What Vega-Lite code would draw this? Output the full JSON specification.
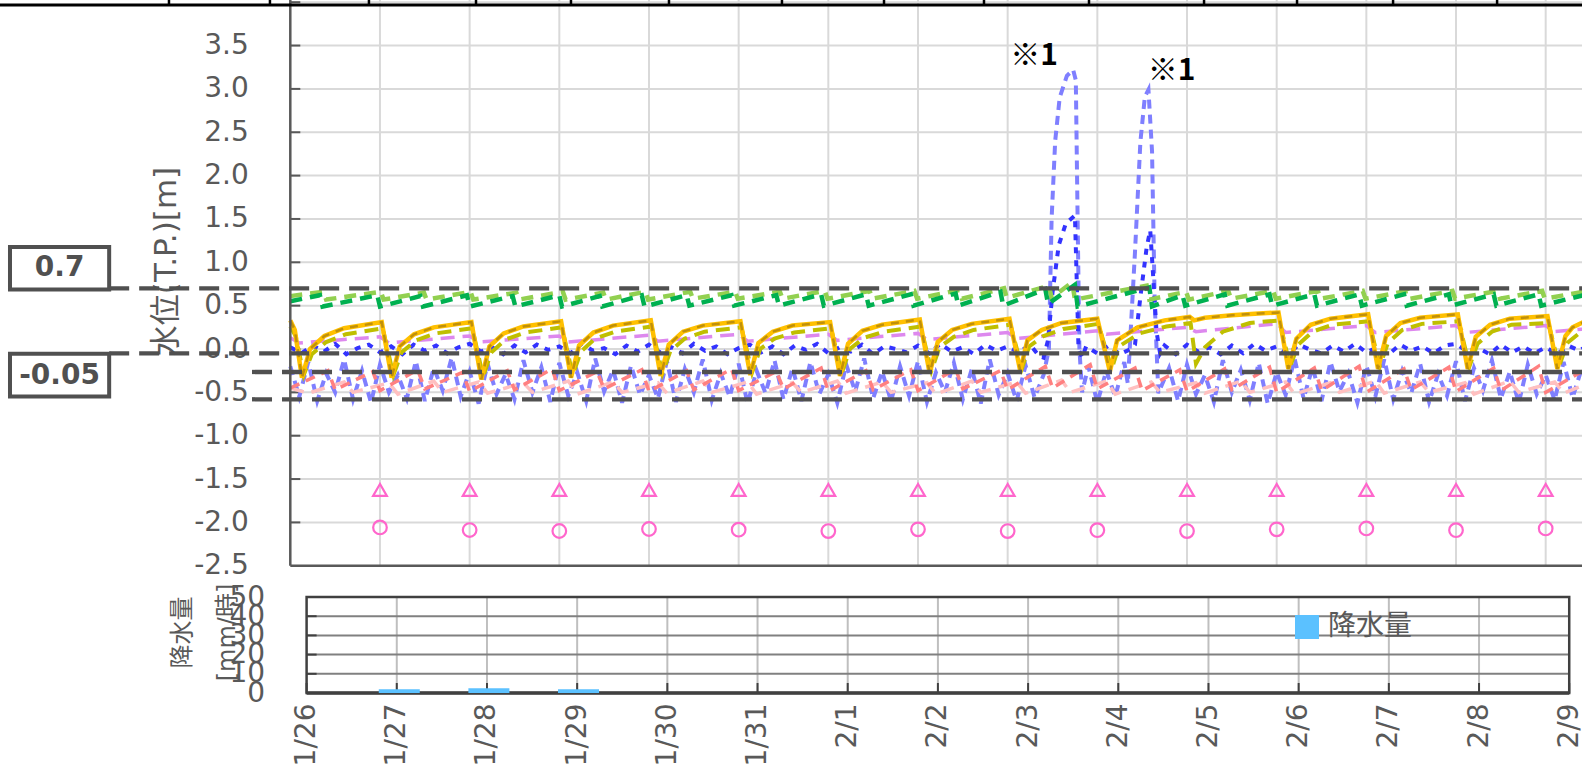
{
"$schema":"https://vega.github.io/schema/vega-lite/v6.json",
"width":1582,"height":767,"padding":0,"autosize":{"type":"none"},
"background":"#ffffff",
"config":{"view":{"stroke":null},"font":"DejaVu Sans, Noto Sans CJK JP",
 "axis":{"labelColor":"#595959","titleColor":"#595959","labelFontSize":28,"labelFont":"DejaVu Sans, Noto Sans CJK JP","titleFont":"DejaVu Sans, Noto Sans CJK JP","titleFontWeight":"normal","ticks":false,"labelFlush":false,"labelOverlap":false,"labelBound":false,"grid":false,"domain":false}},
"datasets":{
 "hgT":[{"v":-2},{"v":-1.5},{"v":-1},{"v":-0.5},{"v":0},{"v":0.5},{"v":1},{"v":1.5},{"v":2},{"v":2.5},{"v":3},{"v":3.5},{"v":4}],
 "vgT":[{"d":1},{"d":2},{"d":3},{"d":4},{"d":5},{"d":6},{"d":7},{"d":8},{"d":9},{"d":10},{"d":11},{"d":12},{"d":13},{"d":14}],
 "strip":[{"d":-1.353},{"d":-0.227},{"d":0.877},{"d":2.071},{"d":3.13},{"d":4.223},{"d":5.483},{"d":6.621},{"d":7.736},{"d":8.907},{"d":10.19},{"d":11.227},{"d":12.298},{"d":13.458}],
 "dg":[{"d":0,"v":0.55},{"d":0.33,"v":0.62},{"d":0.36,"v":0.49},{"d":0.97,"v":0.62},{"d":1.0,"v":0.49},{"d":1.45,"v":0.61},{"d":1.48,"v":0.49},{"d":1.97,"v":0.62},{"d":2.0,"v":0.49},{"d":2.48,"v":0.61},{"d":2.51,"v":0.49},{"d":3.0,"v":0.62},{"d":3.03,"v":0.49},{"d":3.45,"v":0.61},{"d":3.48,"v":0.49},{"d":3.92,"v":0.62},{"d":3.95,"v":0.49},{"d":4.42,"v":0.62},{"d":4.45,"v":0.5},{"d":4.92,"v":0.62},{"d":4.95,"v":0.5},{"d":5.42,"v":0.62},{"d":5.45,"v":0.5},{"d":5.92,"v":0.63},{"d":5.95,"v":0.5},{"d":6.42,"v":0.63},{"d":6.45,"v":0.5},{"d":6.92,"v":0.63},{"d":6.95,"v":0.5},{"d":7.42,"v":0.64},{"d":7.45,"v":0.5},{"d":7.92,"v":0.66},{"d":7.95,"v":0.5},{"d":8.42,"v":0.69},{"d":8.45,"v":0.52},{"d":8.75,"v":0.74},{"d":8.78,"v":0.49},{"d":9.58,"v":0.71},{"d":9.61,"v":0.49},{"d":9.95,"v":0.62},{"d":9.98,"v":0.5},{"d":10.42,"v":0.63},{"d":10.45,"v":0.5},{"d":10.92,"v":0.63},{"d":10.95,"v":0.5},{"d":11.42,"v":0.63},{"d":11.45,"v":0.5},{"d":11.92,"v":0.63},{"d":11.95,"v":0.5},{"d":12.42,"v":0.63},{"d":12.45,"v":0.5},{"d":12.92,"v":0.63},{"d":12.95,"v":0.5},{"d":13.42,"v":0.63},{"d":13.45,"v":0.5},{"d":13.92,"v":0.63},{"d":13.95,"v":0.5},{"d":14.42,"v":0.62}],
 "lg":[{"d":0,"v":0.61},{"d":0.37,"v":0.66},{"d":0.4,"v":0.57},{"d":1.01,"v":0.66},{"d":1.04,"v":0.57},{"d":1.49,"v":0.65},{"d":1.52,"v":0.57},{"d":2.01,"v":0.66},{"d":2.04,"v":0.57},{"d":2.52,"v":0.65},{"d":2.55,"v":0.57},{"d":3.04,"v":0.66},{"d":3.07,"v":0.57},{"d":3.49,"v":0.65},{"d":3.52,"v":0.57},{"d":3.96,"v":0.66},{"d":3.99,"v":0.57},{"d":4.46,"v":0.66},{"d":4.49,"v":0.58},{"d":4.96,"v":0.66},{"d":4.99,"v":0.58},{"d":5.46,"v":0.66},{"d":5.49,"v":0.58},{"d":5.96,"v":0.67},{"d":5.99,"v":0.58},{"d":6.46,"v":0.67},{"d":6.49,"v":0.58},{"d":6.96,"v":0.67},{"d":6.99,"v":0.58},{"d":7.46,"v":0.68},{"d":7.49,"v":0.58},{"d":7.96,"v":0.7},{"d":7.99,"v":0.59},{"d":8.46,"v":0.73},{"d":8.49,"v":0.59},{"d":8.72,"v":0.77},{"d":8.75,"v":0.57},{"d":9.55,"v":0.73},{"d":9.58,"v":0.57},{"d":9.99,"v":0.66},{"d":10.02,"v":0.57},{"d":10.46,"v":0.67},{"d":10.49,"v":0.58},{"d":10.96,"v":0.67},{"d":10.99,"v":0.58},{"d":11.46,"v":0.67},{"d":11.49,"v":0.58},{"d":11.96,"v":0.67},{"d":11.99,"v":0.58},{"d":12.46,"v":0.67},{"d":12.49,"v":0.58},{"d":12.96,"v":0.67},{"d":12.99,"v":0.58},{"d":13.46,"v":0.67},{"d":13.49,"v":0.58},{"d":13.96,"v":0.67},{"d":13.99,"v":0.58},{"d":14.42,"v":0.66}],
 "or":[{"d":0,"v":0.33},{"d":0.05,"v":0.22},{"d":0.13,"v":-0.33},{"d":0.22,"v":0.0},{"d":0.38,"v":0.15},{"d":0.6,"v":0.24},
 {"d":1.02,"v":0.31},{"d":1.13,"v":-0.33},{"d":1.22,"v":0.03},{"d":1.38,"v":0.17},{"d":1.6,"v":0.25},
 {"d":2.02,"v":0.31},{"d":2.13,"v":-0.35},{"d":2.22,"v":0.03},{"d":2.38,"v":0.18},{"d":2.6,"v":0.26},
 {"d":3.02,"v":0.32},{"d":3.13,"v":-0.33},{"d":3.22,"v":0.04},{"d":3.38,"v":0.19},{"d":3.6,"v":0.27},
 {"d":4.02,"v":0.33},{"d":4.13,"v":-0.31},{"d":4.22,"v":0.05},{"d":4.38,"v":0.2},{"d":4.6,"v":0.27},
 {"d":5.02,"v":0.32},{"d":5.13,"v":-0.3},{"d":5.22,"v":0.07},{"d":5.38,"v":0.2},{"d":5.6,"v":0.27},
 {"d":6.02,"v":0.31},{"d":6.13,"v":-0.31},{"d":6.22,"v":0.06},{"d":6.38,"v":0.21},{"d":6.6,"v":0.28},
 {"d":7.02,"v":0.34},{"d":7.13,"v":-0.28},{"d":7.22,"v":0.08},{"d":7.38,"v":0.22},{"d":7.6,"v":0.29},
 {"d":8.02,"v":0.35},{"d":8.14,"v":-0.25},{"d":8.22,"v":0.1},{"d":8.38,"v":0.22},{"d":8.6,"v":0.3},
 {"d":9.0,"v":0.35},{"d":9.14,"v":-0.26},{"d":9.22,"v":0.1},{"d":9.45,"v":0.25},{"d":9.75,"v":0.33},
 {"d":10.03,"v":0.37},{"d":10.08,"v":0.33},{"d":10.2,"v":0.36},{"d":10.5,"v":0.39},{"d":10.8,"v":0.41},
 {"d":11.02,"v":0.42},{"d":11.13,"v":-0.23},{"d":11.22,"v":0.12},{"d":11.38,"v":0.28},{"d":11.6,"v":0.35},
 {"d":12.02,"v":0.4},{"d":12.13,"v":-0.23},{"d":12.22,"v":0.15},{"d":12.38,"v":0.3},{"d":12.6,"v":0.36},
 {"d":13.02,"v":0.4},{"d":13.13,"v":-0.23},{"d":13.22,"v":0.14},{"d":13.38,"v":0.28},{"d":13.6,"v":0.35},
 {"d":14.02,"v":0.38},{"d":14.13,"v":-0.23},{"d":14.22,"v":0.15},{"d":14.3,"v":0.25},{"d":14.42,"v":0.31}],
 "ol":[{"d":0,"v":0.26},{"d":0.06,"v":0.15},{"d":0.15,"v":-0.3},{"d":0.24,"v":-0.06},{"d":0.4,"v":0.08},{"d":0.62,"v":0.17},
 {"d":1.03,"v":0.24},{"d":1.15,"v":-0.3},{"d":1.24,"v":-0.04},{"d":1.4,"v":0.1},{"d":1.62,"v":0.18},
 {"d":2.03,"v":0.24},{"d":2.15,"v":-0.32},{"d":2.24,"v":-0.04},{"d":2.4,"v":0.11},{"d":2.62,"v":0.19},
 {"d":3.03,"v":0.25},{"d":3.15,"v":-0.3},{"d":3.24,"v":-0.03},{"d":3.4,"v":0.12},{"d":3.62,"v":0.2},
 {"d":4.03,"v":0.26},{"d":4.15,"v":-0.28},{"d":4.24,"v":-0.02},{"d":4.4,"v":0.12},{"d":4.62,"v":0.2},
 {"d":5.03,"v":0.25},{"d":5.15,"v":-0.27},{"d":5.24,"v":0.0},{"d":5.4,"v":0.12},{"d":5.62,"v":0.19},
 {"d":6.03,"v":0.24},{"d":6.15,"v":-0.28},{"d":6.24,"v":0.0},{"d":6.4,"v":0.13},{"d":6.62,"v":0.2},
 {"d":7.03,"v":0.26},{"d":7.15,"v":-0.25},{"d":7.24,"v":0.02},{"d":7.4,"v":0.14},{"d":7.62,"v":0.22},
 {"d":8.03,"v":0.28},{"d":8.16,"v":-0.22},{"d":8.24,"v":0.03},{"d":8.4,"v":0.15},{"d":8.62,"v":0.23},
 {"d":9.01,"v":0.29},{"d":9.16,"v":-0.23},{"d":9.24,"v":0.03},{"d":9.47,"v":0.18},{"d":9.77,"v":0.26},
 {"d":10.04,"v":0.3},{"d":10.1,"v":-0.17},{"d":10.2,"v":0.02},{"d":10.4,"v":0.2},{"d":10.7,"v":0.3},
 {"d":11.03,"v":0.33},{"d":11.15,"v":-0.2},{"d":11.24,"v":0.05},{"d":11.4,"v":0.2},{"d":11.62,"v":0.28},
 {"d":12.03,"v":0.32},{"d":12.15,"v":-0.2},{"d":12.24,"v":0.07},{"d":12.4,"v":0.22},{"d":12.62,"v":0.29},
 {"d":13.03,"v":0.32},{"d":13.15,"v":-0.2},{"d":13.24,"v":0.06},{"d":13.4,"v":0.2},{"d":13.62,"v":0.28},
 {"d":14.03,"v":0.3},{"d":14.15,"v":-0.2},{"d":14.24,"v":0.07},{"d":14.42,"v":0.22}],
 "pk":[{"d":0,"v":0.13},{"d":0.1,"v":0.07},{"d":1.0,"v":0.14},{"d":1.1,"v":0.07},{"d":2.0,"v":0.15},{"d":2.1,"v":0.08},{"d":3.0,"v":0.15},{"d":3.1,"v":0.08},{"d":4.0,"v":0.16},{"d":4.1,"v":0.09},{"d":5.0,"v":0.17},{"d":5.1,"v":0.09},{"d":6.0,"v":0.17},{"d":6.1,"v":0.1},{"d":7.0,"v":0.18},{"d":7.1,"v":0.11},{"d":8.0,"v":0.19},{"d":8.1,"v":0.12},{"d":9.0,"v":0.21},{"d":9.1,"v":0.17},{"d":10.0,"v":0.25},{"d":10.1,"v":0.2},{"d":11.0,"v":0.29},{"d":11.1,"v":0.19},{"d":12.0,"v":0.27},{"d":12.1,"v":0.19},{"d":13.0,"v":0.27},{"d":13.1,"v":0.19},{"d":14.0,"v":0.27},{"d":14.1,"v":0.2},{"d":14.42,"v":0.23}],
 "bd":[{"d":0,"v":0.02},{"d":0.125,"v":-0.05},{"d":0.25,"v":0.04},{"d":0.375,"v":-0.03},{"d":0.5,"v":0.06},{"d":0.625,"v":-0.06},{"d":0.75,"v":0.01},{"d":0.875,"v":0.05},
 {"d":1,"v":-0.04},{"d":1.125,"v":0.03},{"d":1.25,"v":-0.06},{"d":1.375,"v":0.05},{"d":1.5,"v":-0.02},{"d":1.625,"v":0.04},{"d":1.75,"v":-0.05},{"d":1.875,"v":0.02},
 {"d":2,"v":0.06},{"d":2.125,"v":-0.03},{"d":2.25,"v":0.02},{"d":2.375,"v":-0.06},{"d":2.5,"v":0.04},{"d":2.625,"v":-0.04},{"d":2.75,"v":0.05},{"d":2.875,"v":-0.01},
 {"d":3,"v":0.03},{"d":3.125,"v":-0.05},{"d":3.25,"v":0.06},{"d":3.375,"v":-0.02},{"d":3.5,"v":0.01},{"d":3.625,"v":-0.06},{"d":3.75,"v":0.04},{"d":3.875,"v":-0.03},
 {"d":4,"v":0.05},{"d":4.125,"v":-0.04},{"d":4.25,"v":0.02},{"d":4.375,"v":-0.05},{"d":4.5,"v":0.06},{"d":4.625,"v":-0.02},{"d":4.75,"v":0.03},{"d":4.875,"v":-0.06},
 {"d":5,"v":0.01},{"d":5.125,"v":0.05},{"d":5.25,"v":-0.04},{"d":5.375,"v":0.03},{"d":5.5,"v":-0.06},{"d":5.625,"v":0.04},{"d":5.75,"v":-0.01},{"d":5.875,"v":0.06},
 {"d":6,"v":-0.05},{"d":6.125,"v":0.02},{"d":6.25,"v":-0.03},{"d":6.375,"v":0.05},{"d":6.5,"v":-0.06},{"d":6.625,"v":0.03},{"d":6.75,"v":0.0},{"d":6.875,"v":-0.04},
 {"d":7,"v":0.04},{"d":7.125,"v":-0.05},{"d":7.25,"v":0.06},{"d":7.375,"v":-0.03},{"d":7.5,"v":0.02},{"d":7.625,"v":-0.06},{"d":7.75,"v":0.05},{"d":7.875,"v":-0.02},
 {"d":8,"v":0.03},{"d":8.125,"v":-0.04},{"d":8.25,"v":0.05},{"d":8.35,"v":-0.08},{"d":8.4,"v":-0.1},{"d":8.45,"v":0.1},{"d":8.5,"v":0.65},{"d":8.57,"v":1.2},{"d":8.65,"v":1.45},{"d":8.75,"v":1.54},{"d":8.77,"v":0.8},{"d":8.79,"v":0.0},{"d":8.83,"v":-0.1},{"d":8.875,"v":0.03},
 {"d":9,"v":-0.05},{"d":9.125,"v":0.04},{"d":9.25,"v":-0.06},{"d":9.375,"v":0.0},{"d":9.42,"v":0.05},{"d":9.48,"v":0.6},{"d":9.55,"v":1.17},{"d":9.59,"v":1.37},{"d":9.62,"v":0.88},{"d":9.66,"v":0.2},{"d":9.7,"v":-0.05},{"d":9.75,"v":0.04},{"d":9.875,"v":-0.06},
 {"d":10,"v":0.05},{"d":10.125,"v":-0.03},{"d":10.25,"v":0.02},{"d":10.375,"v":-0.06},{"d":10.5,"v":0.04},{"d":10.625,"v":-0.05},{"d":10.75,"v":0.06},{"d":10.875,"v":-0.02},
 {"d":11,"v":0.03},{"d":11.125,"v":-0.06},{"d":11.25,"v":0.05},{"d":11.375,"v":-0.01},{"d":11.5,"v":-0.05},{"d":11.625,"v":0.04},{"d":11.75,"v":-0.03},{"d":11.875,"v":0.06},
 {"d":12,"v":-0.04},{"d":12.125,"v":0.02},{"d":12.25,"v":-0.06},{"d":12.375,"v":0.05},{"d":12.5,"v":-0.02},{"d":12.625,"v":0.03},{"d":12.75,"v":-0.05},{"d":12.875,"v":0.04},
 {"d":13,"v":0.06},{"d":13.125,"v":-0.03},{"d":13.25,"v":0.01},{"d":13.375,"v":-0.06},{"d":13.5,"v":0.05},{"d":13.625,"v":-0.04},{"d":13.75,"v":0.03},{"d":13.875,"v":-0.05},
 {"d":14,"v":0.02},{"d":14.125,"v":-0.06},{"d":14.25,"v":0.04},{"d":14.375,"v":-0.02},{"d":14.42,"v":0.01}],
 "lb":[{"d":0,"v":-0.2},{"d":0.1,"v":-0.55},{"d":0.2,"v":-0.15},{"d":0.3,"v":-0.6},{"d":0.4,"v":-0.28},{"d":0.5,"v":-0.5},{"d":0.6,"v":-0.12},{"d":0.7,"v":-0.58},{"d":0.8,"v":-0.25},{"d":0.9,"v":-0.62},
 {"d":1.0,"v":-0.18},{"d":1.1,"v":-0.5},{"d":1.2,"v":-0.3},{"d":1.3,"v":-0.57},{"d":1.4,"v":-0.14},{"d":1.5,"v":-0.6},{"d":1.6,"v":-0.22},{"d":1.7,"v":-0.48},{"d":1.8,"v":-0.1},{"d":1.9,"v":-0.55},
 {"d":2.0,"v":-0.26},{"d":2.1,"v":-0.63},{"d":2.2,"v":-0.17},{"d":2.3,"v":-0.52},{"d":2.4,"v":-0.29},{"d":2.5,"v":-0.58},{"d":2.6,"v":-0.13},{"d":2.7,"v":-0.5},{"d":2.8,"v":-0.21},{"d":2.9,"v":-0.61},
 {"d":3.0,"v":-0.16},{"d":3.1,"v":-0.54},{"d":3.2,"v":-0.27},{"d":3.3,"v":-0.6},{"d":3.4,"v":-0.11},{"d":3.5,"v":-0.49},{"d":3.6,"v":-0.24},{"d":3.7,"v":-0.62},{"d":3.8,"v":-0.19},{"d":3.9,"v":-0.53},
 {"d":4.0,"v":-0.3},{"d":4.1,"v":-0.57},{"d":4.2,"v":-0.14},{"d":4.3,"v":-0.61},{"d":4.4,"v":-0.23},{"d":4.5,"v":-0.5},{"d":4.6,"v":-0.12},{"d":4.7,"v":-0.59},{"d":4.8,"v":-0.28},{"d":4.9,"v":-0.55},
 {"d":5.0,"v":-0.17},{"d":5.1,"v":-0.63},{"d":5.2,"v":-0.25},{"d":5.3,"v":-0.51},{"d":5.4,"v":-0.13},{"d":5.5,"v":-0.58},{"d":5.6,"v":-0.22},{"d":5.7,"v":-0.6},{"d":5.8,"v":-0.15},{"d":5.9,"v":-0.52},
 {"d":6.0,"v":-0.29},{"d":6.1,"v":-0.62},{"d":6.2,"v":-0.18},{"d":6.3,"v":-0.49},{"d":6.4,"v":-0.11},{"d":6.5,"v":-0.57},{"d":6.6,"v":-0.26},{"d":6.7,"v":-0.6},{"d":6.8,"v":-0.2},{"d":6.9,"v":-0.54},
 {"d":7.0,"v":-0.14},{"d":7.1,"v":-0.61},{"d":7.2,"v":-0.27},{"d":7.3,"v":-0.5},{"d":7.4,"v":-0.16},{"d":7.5,"v":-0.58},{"d":7.6,"v":-0.23},{"d":7.7,"v":-0.63},{"d":7.8,"v":-0.12},{"d":7.9,"v":-0.53},
 {"d":8.0,"v":-0.28},{"d":8.1,"v":-0.6},{"d":8.2,"v":-0.19},{"d":8.3,"v":-0.56},{"d":8.4,"v":-0.3},{"d":8.46,"v":0.0},{"d":8.49,"v":1.5},{"d":8.53,"v":2.4},{"d":8.58,"v":2.9},{"d":8.66,"v":3.15},{"d":8.73,"v":3.22},{"d":8.76,"v":3.1},{"d":8.78,"v":1.5},{"d":8.8,"v":0.0},{"d":8.83,"v":-0.5},
 {"d":8.9,"v":-0.2},{"d":9.0,"v":-0.62},{"d":9.1,"v":-0.25},{"d":9.2,"v":-0.55},{"d":9.3,"v":-0.15},{"d":9.34,"v":-0.4},{"d":9.42,"v":1.12},{"d":9.48,"v":2.39},{"d":9.53,"v":2.91},{"d":9.57,"v":2.99},{"d":9.61,"v":2.28},{"d":9.64,"v":0.53},{"d":9.68,"v":-0.51},
 {"d":9.8,"v":-0.22},{"d":9.9,"v":-0.6},{"d":10.0,"v":-0.18},{"d":10.1,"v":-0.52},{"d":10.2,"v":-0.3},{"d":10.3,"v":-0.61},{"d":10.4,"v":-0.13},{"d":10.5,"v":-0.5},{"d":10.6,"v":-0.24},{"d":10.7,"v":-0.59},{"d":10.8,"v":-0.16},{"d":10.9,"v":-0.63},
 {"d":11.0,"v":-0.27},{"d":11.1,"v":-0.53},{"d":11.2,"v":-0.11},{"d":11.3,"v":-0.57},{"d":11.4,"v":-0.21},{"d":11.5,"v":-0.6},{"d":11.6,"v":-0.15},{"d":11.7,"v":-0.49},{"d":11.8,"v":-0.28},{"d":11.9,"v":-0.62},
 {"d":12.0,"v":-0.19},{"d":12.1,"v":-0.55},{"d":12.2,"v":-0.12},{"d":12.3,"v":-0.58},{"d":12.4,"v":-0.25},{"d":12.5,"v":-0.51},{"d":12.6,"v":-0.17},{"d":12.7,"v":-0.61},{"d":12.8,"v":-0.29},{"d":12.9,"v":-0.54},
 {"d":13.0,"v":-0.14},{"d":13.1,"v":-0.6},{"d":13.2,"v":-0.22},{"d":13.3,"v":-0.48},{"d":13.4,"v":-0.13},{"d":13.5,"v":-0.57},{"d":13.6,"v":-0.26},{"d":13.7,"v":-0.62},{"d":13.8,"v":-0.18},{"d":13.9,"v":-0.52},
 {"d":14.0,"v":-0.3},{"d":14.1,"v":-0.59},{"d":14.2,"v":-0.15},{"d":14.3,"v":-0.56},{"d":14.4,"v":-0.23}],
 "sa":[{"d":0,"v":-0.45},{"d":0.42,"v":-0.25},{"d":0.5,"v":-0.47},{"d":0.92,"v":-0.26},{"d":1.0,"v":-0.48},{"d":1.42,"v":-0.24},{"d":1.5,"v":-0.46},{"d":1.92,"v":-0.27},{"d":2.0,"v":-0.49},{"d":2.42,"v":-0.25},{"d":2.5,"v":-0.47},{"d":2.92,"v":-0.23},{"d":3.0,"v":-0.48},{"d":3.42,"v":-0.26},{"d":3.5,"v":-0.46},{"d":3.92,"v":-0.24},{"d":4.0,"v":-0.49},{"d":4.42,"v":-0.25},{"d":4.5,"v":-0.47},{"d":4.92,"v":-0.23},{"d":5.0,"v":-0.48},{"d":5.42,"v":-0.26},{"d":5.5,"v":-0.46},{"d":5.92,"v":-0.22},{"d":6.0,"v":-0.49},{"d":6.42,"v":-0.25},{"d":6.5,"v":-0.47},{"d":6.92,"v":-0.24},{"d":7.0,"v":-0.48},{"d":7.42,"v":-0.23},{"d":7.5,"v":-0.46},{"d":7.92,"v":-0.25},{"d":8.0,"v":-0.47},{"d":8.42,"v":-0.2},{"d":8.5,"v":-0.45},{"d":8.92,"v":-0.18},{"d":9.0,"v":-0.46},{"d":9.42,"v":-0.22},{"d":9.5,"v":-0.48},{"d":9.92,"v":-0.24},{"d":10.0,"v":-0.49},{"d":10.42,"v":-0.23},{"d":10.5,"v":-0.47},{"d":10.92,"v":-0.21},{"d":11.0,"v":-0.5},{"d":11.42,"v":-0.22},{"d":11.5,"v":-0.48},{"d":11.92,"v":-0.2},{"d":12.0,"v":-0.5},{"d":12.42,"v":-0.23},{"d":12.5,"v":-0.47},{"d":12.92,"v":-0.21},{"d":13.0,"v":-0.49},{"d":13.42,"v":-0.22},{"d":13.5,"v":-0.48},{"d":13.92,"v":-0.2},{"d":14.0,"v":-0.5},{"d":14.42,"v":-0.25}],
 "lp":[{"d":0,"v":-0.45},{"d":0.2,"v":-0.51},{"d":0.6,"v":-0.38},{"d":0.7,"v":-0.5},{"d":1.1,"v":-0.39},{"d":1.2,"v":-0.52},{"d":1.6,"v":-0.37},{"d":1.7,"v":-0.5},{"d":2.1,"v":-0.38},{"d":2.2,"v":-0.51},{"d":2.6,"v":-0.39},{"d":2.7,"v":-0.5},{"d":3.1,"v":-0.37},{"d":3.2,"v":-0.52},{"d":3.6,"v":-0.38},{"d":3.7,"v":-0.5},{"d":4.1,"v":-0.39},{"d":4.2,"v":-0.51},{"d":4.6,"v":-0.37},{"d":4.7,"v":-0.5},{"d":5.1,"v":-0.38},{"d":5.2,"v":-0.52},{"d":5.6,"v":-0.39},{"d":5.7,"v":-0.5},{"d":6.1,"v":-0.37},{"d":6.2,"v":-0.51},{"d":6.6,"v":-0.38},{"d":6.7,"v":-0.5},{"d":7.1,"v":-0.39},{"d":7.2,"v":-0.52},{"d":7.6,"v":-0.37},{"d":7.7,"v":-0.5},{"d":8.1,"v":-0.38},{"d":8.2,"v":-0.51},{"d":8.6,"v":-0.36},{"d":8.7,"v":-0.5},{"d":9.1,"v":-0.37},{"d":9.2,"v":-0.52},{"d":9.6,"v":-0.38},{"d":9.7,"v":-0.5},{"d":10.1,"v":-0.39},{"d":10.2,"v":-0.51},{"d":10.6,"v":-0.37},{"d":10.7,"v":-0.5},{"d":11.1,"v":-0.38},{"d":11.2,"v":-0.52},{"d":11.6,"v":-0.39},{"d":11.7,"v":-0.5},{"d":12.1,"v":-0.37},{"d":12.2,"v":-0.51},{"d":12.6,"v":-0.38},{"d":12.7,"v":-0.5},{"d":13.1,"v":-0.39},{"d":13.2,"v":-0.52},{"d":13.6,"v":-0.37},{"d":13.7,"v":-0.5},{"d":14.1,"v":-0.38},{"d":14.2,"v":-0.51},{"d":14.42,"v":-0.42}],
 "refs":[{"v":0.7,"a":-2.02},{"v":-0.05,"a":-2.02},{"v":-0.265,"a":-0.427},{"v":-0.58,"a":-0.427}],
 "boxes":[{"a":-3.126,"b":-2.02,"lo":0.685,"hi":1.176,"t":"0.7","tx":-2.573,"tv":0.93},{"a":-3.126,"b":-2.02,"lo":-0.548,"hi":-0.055,"t":"-0.05","tx":-2.573,"tv":-0.315}],
 "tri":[{"d":1,"v":-1.626},{"d":2,"v":-1.626},{"d":3,"v":-1.626},{"d":4,"v":-1.626},{"d":5,"v":-1.626},{"d":6,"v":-1.626},{"d":7,"v":-1.626},{"d":8,"v":-1.626},{"d":9,"v":-1.626},{"d":10,"v":-1.626},{"d":11,"v":-1.626},{"d":12,"v":-1.626},{"d":13,"v":-1.626},{"d":14,"v":-1.626}],
 "cir":[{"d":1,"v":-2.058},{"d":2,"v":-2.088},{"d":3,"v":-2.099},{"d":4,"v":-2.076},{"d":5,"v":-2.084},{"d":6,"v":-2.1},{"d":7,"v":-2.08},{"d":8,"v":-2.1},{"d":9,"v":-2.09},{"d":10,"v":-2.1},{"d":11,"v":-2.08},{"d":12,"v":-2.07},{"d":13,"v":-2.09},{"d":14,"v":-2.07}],
 "notes":[{"d":8.294,"v":3.38,"t":"※1"},{"d":9.827,"v":3.21,"t":"※1"}],
 "vgB":[{"d":1},{"d":2},{"d":3},{"d":4},{"d":5},{"d":6},{"d":7},{"d":8},{"d":9},{"d":10},{"d":11},{"d":12},{"d":13}],
 "xlB":[{"d":0},{"d":1},{"d":2},{"d":3},{"d":4},{"d":5},{"d":6},{"d":7},{"d":8},{"d":9},{"d":10},{"d":11},{"d":12},{"d":13},{"d":14}],
 "hgB":[{"v":10},{"v":20},{"v":30},{"v":40}],
 "ylB":[{"v":0},{"v":10},{"v":20},{"v":30},{"v":40},{"v":50}],
 "rain":[{"d":1,"v":2,"s":"降水量"},{"d":2,"v":2.5,"s":"降水量"},{"d":3,"v":2,"s":"降水量"}]
},
"resolve":{"scale":{"x":"independent","y":"independent"},"axis":{"x":"independent","y":"independent"}},
"layer":[
 {"data":{"name":"hgT"},"mark":{"type":"rule","color":"#D9D9D9","strokeWidth":2},
  "encoding":{"y":{"field":"v","type":"quantitative","scale":{"domain":[-4.8212,4.0254],"nice":false,"zero":false},"axis":null},
   "x":{"datum":0,"type":"quantitative","scale":{"domain":[-3.2374,14.4049],"nice":false,"zero":false},"axis":null},"x2":{"datum":14.6}}},
 {"data":{"name":"vgT"},"mark":{"type":"rule","color":"#D9D9D9","strokeWidth":2},
  "encoding":{"x":{"field":"d","type":"quantitative","scale":{"domain":[-3.2374,14.4049],"nice":false,"zero":false},"axis":null},
   "y":{"datum":-2.5,"type":"quantitative","scale":{"domain":[-4.8212,4.0254],"nice":false,"zero":false},"axis":null},"y2":{"datum":4.03}}},
 {"data":{"name":"hgT"},"mark":{"type":"rule","color":"#595959","strokeWidth":2},
  "encoding":{"y":{"field":"v","type":"quantitative","scale":{"domain":[-4.8212,4.0254],"nice":false,"zero":false},
    "axis":{"orient":"left","offset":-290.3,"values":[-2.5,-2,-1.5,-1,-0.5,0,0.5,1,1.5,2,2.5,3,3.5],"labelPadding":42,"labelExpr":"replace(format(datum.value,'.1f'),'\u2212','-')","title":"水位(T.P.)[m]","titleFontSize":31,"titleX":-124,"titleY":261,"titleAngle":-90,"titleAlign":"center","titleBaseline":"middle"}},
   "x":{"datum":0,"type":"quantitative","scale":{"domain":[-3.2374,14.4049],"nice":false,"zero":false},"axis":null},"x2":{"datum":0.1115}}},
 {"data":{"name":"lb"},"mark":{"type":"line","color":"#7F7FFF","strokeWidth":4,"strokeDash":[9,6]},"encoding":{"x":{"field":"d","type":"quantitative","scale":{"domain":[-3.2374,14.4049],"nice":false,"zero":false},"axis":null},"y":{"field":"v","type":"quantitative","scale":{"domain":[-4.8212,4.0254],"nice":false,"zero":false},"axis":null}}},
 {"data":{"name":"bd"},"mark":{"type":"line","color":"#3333FF","strokeWidth":4,"strokeDash":[6,7]},"encoding":{"x":{"field":"d","type":"quantitative","scale":{"domain":[-3.2374,14.4049],"nice":false,"zero":false},"axis":null},"y":{"field":"v","type":"quantitative","scale":{"domain":[-4.8212,4.0254],"nice":false,"zero":false},"axis":null}}},
 {"data":{"name":"lp"},"mark":{"type":"line","color":"#FFC0C0","strokeWidth":3.5,"strokeDash":[14,8]},"encoding":{"x":{"field":"d","type":"quantitative","scale":{"domain":[-3.2374,14.4049],"nice":false,"zero":false},"axis":null},"y":{"field":"v","type":"quantitative","scale":{"domain":[-4.8212,4.0254],"nice":false,"zero":false},"axis":null}}},
 {"data":{"name":"sa"},"mark":{"type":"line","color":"#FF8080","strokeWidth":3.5,"strokeDash":[10,7]},"encoding":{"x":{"field":"d","type":"quantitative","scale":{"domain":[-3.2374,14.4049],"nice":false,"zero":false},"axis":null},"y":{"field":"v","type":"quantitative","scale":{"domain":[-4.8212,4.0254],"nice":false,"zero":false},"axis":null}}},
 {"data":{"name":"pk"},"mark":{"type":"line","color":"#DD88EE","strokeWidth":3.5,"strokeDash":[14,8]},"encoding":{"x":{"field":"d","type":"quantitative","scale":{"domain":[-3.2374,14.4049],"nice":false,"zero":false},"axis":null},"y":{"field":"v","type":"quantitative","scale":{"domain":[-4.8212,4.0254],"nice":false,"zero":false},"axis":null}}},
 {"data":{"name":"ol"},"mark":{"type":"line","color":"#BFBF00","strokeWidth":4,"strokeDash":[14,8]},"encoding":{"x":{"field":"d","type":"quantitative","scale":{"domain":[-3.2374,14.4049],"nice":false,"zero":false},"axis":null},"y":{"field":"v","type":"quantitative","scale":{"domain":[-4.8212,4.0254],"nice":false,"zero":false},"axis":null}}},
 {"data":{"name":"or"},"mark":{"type":"line","color":"#FFC000","strokeWidth":4.5},"encoding":{"x":{"field":"d","type":"quantitative","scale":{"domain":[-3.2374,14.4049],"nice":false,"zero":false},"axis":null},"y":{"field":"v","type":"quantitative","scale":{"domain":[-4.8212,4.0254],"nice":false,"zero":false},"axis":null}}},
 {"data":{"name":"or"},"mark":{"type":"line","color":"#C0900A","strokeWidth":2.5,"strokeDash":[8,7]},"encoding":{"x":{"field":"d","type":"quantitative","scale":{"domain":[-3.2374,14.4049],"nice":false,"zero":false},"axis":null},"y":{"field":"v","type":"quantitative","scale":{"domain":[-4.8212,4.0254],"nice":false,"zero":false},"axis":null}}},
 {"data":{"name":"lg"},"mark":{"type":"line","color":"#92D050","strokeWidth":4.5,"strokeDash":[12,8]},"encoding":{"x":{"field":"d","type":"quantitative","scale":{"domain":[-3.2374,14.4049],"nice":false,"zero":false},"axis":null},"y":{"field":"v","type":"quantitative","scale":{"domain":[-4.8212,4.0254],"nice":false,"zero":false},"axis":null}}},
 {"data":{"name":"dg"},"mark":{"type":"line","color":"#00B050","strokeWidth":4.5,"strokeDash":[12,8]},"encoding":{"x":{"field":"d","type":"quantitative","scale":{"domain":[-3.2374,14.4049],"nice":false,"zero":false},"axis":null},"y":{"field":"v","type":"quantitative","scale":{"domain":[-4.8212,4.0254],"nice":false,"zero":false},"axis":null}}},
 {"data":{"values":[{}]},"mark":{"type":"rule","color":"#595959","strokeWidth":2.5},
  "encoding":{"x":{"datum":0,"type":"quantitative","scale":{"domain":[-3.2374,14.4049],"nice":false,"zero":false},"axis":null},"y":{"datum":-2.5,"type":"quantitative","scale":{"domain":[-4.8212,4.0254],"nice":false,"zero":false},"axis":null},"y2":{"datum":4.03}}},
 {"data":{"values":[{}]},"mark":{"type":"rule","color":"#595959","strokeWidth":2.5},
  "encoding":{"x":{"datum":0,"type":"quantitative","scale":{"domain":[-3.2374,14.4049],"nice":false,"zero":false},"axis":null},"x2":{"datum":14.6},"y":{"datum":-2.5,"type":"quantitative","scale":{"domain":[-4.8212,4.0254],"nice":false,"zero":false},"axis":null}}},
 {"data":{"name":"refs"},"mark":{"type":"rule","color":"#505050","strokeWidth":4.3,"strokeDash":[20,10]},
  "encoding":{"x":{"field":"a","type":"quantitative","scale":{"domain":[-3.2374,14.4049],"nice":false,"zero":false},"axis":null},"x2":{"datum":14.6},"y":{"field":"v","type":"quantitative","scale":{"domain":[-4.8212,4.0254],"nice":false,"zero":false},"axis":null}}},
 {"data":{"name":"boxes"},"mark":{"type":"rect","fill":"#ffffff","stroke":"#505050","strokeWidth":4},
  "encoding":{"x":{"field":"a","type":"quantitative","scale":{"domain":[-3.2374,14.4049],"nice":false,"zero":false},"axis":null},"x2":{"field":"b"},"y":{"field":"lo","type":"quantitative","scale":{"domain":[-4.8212,4.0254],"nice":false,"zero":false},"axis":null},"y2":{"field":"hi"}}},
 {"data":{"name":"boxes"},"mark":{"type":"text","fontSize":28,"fontWeight":"bold","color":"#505050","align":"center","baseline":"middle","font":"DejaVu Sans"},
  "encoding":{"x":{"field":"tx","type":"quantitative","scale":{"domain":[-3.2374,14.4049],"nice":false,"zero":false},"axis":null},"y":{"field":"tv","type":"quantitative","scale":{"domain":[-4.8212,4.0254],"nice":false,"zero":false},"axis":null},"text":{"field":"t"}}},
 {"data":{"name":"tri"},"mark":{"type":"point","shape":"triangle-up","filled":false,"size":190,"color":"#FF66CC","strokeWidth":2.2,"opacity":1},
  "encoding":{"x":{"field":"d","type":"quantitative","scale":{"domain":[-3.2374,14.4049],"nice":false,"zero":false},"axis":null},"y":{"field":"v","type":"quantitative","scale":{"domain":[-4.8212,4.0254],"nice":false,"zero":false},"axis":null}}},
 {"data":{"name":"cir"},"mark":{"type":"point","shape":"circle","filled":false,"size":185,"color":"#FF66CC","strokeWidth":2.2,"opacity":1},
  "encoding":{"x":{"field":"d","type":"quantitative","scale":{"domain":[-3.2374,14.4049],"nice":false,"zero":false},"axis":null},"y":{"field":"v","type":"quantitative","scale":{"domain":[-4.8212,4.0254],"nice":false,"zero":false},"axis":null}}},
 {"data":{"name":"notes"},"mark":{"type":"text","fontSize":30,"fontWeight":"bold","color":"#000000","align":"center","baseline":"middle","font":"Noto Sans CJK JP"},
  "encoding":{"x":{"field":"d","type":"quantitative","scale":{"domain":[-3.2374,14.4049],"nice":false,"zero":false},"axis":null},"y":{"field":"v","type":"quantitative","scale":{"domain":[-4.8212,4.0254],"nice":false,"zero":false},"axis":null},"text":{"field":"t"}}},
 {"data":{"values":[{}]},"mark":{"type":"rule","color":"#000000","strokeWidth":3},
  "encoding":{"x":{"datum":-3.3,"type":"quantitative","scale":{"domain":[-3.2374,14.4049],"nice":false,"zero":false},"axis":null},"x2":{"datum":14.6},"y":{"datum":3.968,"type":"quantitative","scale":{"domain":[-4.8212,4.0254],"nice":false,"zero":false},"axis":null}}},
 {"data":{"name":"strip"},"mark":{"type":"rule","color":"#000000","strokeWidth":2.5},
  "encoding":{"x":{"field":"d","type":"quantitative","scale":{"domain":[-3.2374,14.4049],"nice":false,"zero":false},"axis":null},"y":{"datum":3.968,"type":"quantitative","scale":{"domain":[-4.8212,4.0254],"nice":false,"zero":false},"axis":null},"y2":{"datum":4.1}}},
 {"data":{"name":"vgB"},"mark":{"type":"rule","color":"#BFBFBF","strokeWidth":2},
  "encoding":{"x":{"field":"d","type":"quantitative","scale":{"domain":[-3.3995,14.1416],"nice":false,"zero":false},"axis":null},
   "y":{"datum":0,"type":"quantitative","scale":{"domain":[-38.54,360.94],"nice":false,"zero":false},"axis":null},"y2":{"datum":50}}},
 {"data":{"name":"hgB"},"mark":{"type":"rule","color":"#808080","strokeWidth":2},
  "encoding":{"y":{"field":"v","type":"quantitative","scale":{"domain":[-38.54,360.94],"nice":false,"zero":false},"axis":null},
   "x":{"datum":0,"type":"quantitative","scale":{"domain":[-3.3995,14.1416],"nice":false,"zero":false},"axis":null},"x2":{"datum":14}}},
 {"data":{"name":"xlB"},"mark":{"type":"rule","color":"#404040","strokeWidth":2},
  "encoding":{"x":{"field":"d","type":"quantitative","scale":{"domain":[-3.3995,14.1416],"nice":false,"zero":false},
    "axis":{"orient":"bottom","offset":-74,"values":[0,1,2,3,4,5,6,7,8,9,10,11,12,13,14],"labelPadding":10,"labelAngle":-90,"labelAlign":"right","labelBaseline":"middle","labelExpr":"datum.value <= 5 ? '1/' + (26 + datum.value) : '2/' + (datum.value - 5)","title":null}},
   "y":{"datum":0,"type":"quantitative","scale":{"domain":[-38.54,360.94],"nice":false,"zero":false},"axis":null},"y2":{"datum":5.2}}},
 {"data":{"name":"ylB"},"mark":{"type":"rule","color":"#404040","strokeWidth":2},
  "encoding":{"y":{"field":"v","type":"quantitative","scale":{"domain":[-38.54,360.94],"nice":false,"zero":false},
    "axis":{"orient":"left","offset":-306.6,"values":[0,10,20,30,40,50],"labelPadding":42,"title":["降水量","[mm/時]"],"titleFontSize":24,"titleLineHeight":45,"titleX":-124,"titleY":632,"titleAngle":-90,"titleAlign":"center","titleBaseline":"middle"}},
   "x":{"datum":0,"type":"quantitative","scale":{"domain":[-3.3995,14.1416],"nice":false,"zero":false},"axis":null},"x2":{"datum":0.111}}},
 {"data":{"values":[{}]},"mark":{"type":"rect","fill":"transparent","stroke":"#404040","strokeWidth":2.5},
  "encoding":{"x":{"datum":0,"type":"quantitative","scale":{"domain":[-3.3995,14.1416],"nice":false,"zero":false},"axis":null},"x2":{"datum":14},"y":{"datum":0,"type":"quantitative","scale":{"domain":[-38.54,360.94],"nice":false,"zero":false},"axis":null},"y2":{"datum":50}}},
 {"data":{"values":[{}]},"mark":{"type":"rule","color":"#404040","strokeWidth":3.5},
  "encoding":{"x":{"datum":0,"type":"quantitative","scale":{"domain":[-3.3995,14.1416],"nice":false,"zero":false},"axis":null},"x2":{"datum":14},"y":{"datum":0,"type":"quantitative","scale":{"domain":[-38.54,360.94],"nice":false,"zero":false},"axis":null}}},
 {"data":{"name":"rain"},"mark":{"type":"bar","width":41,"orient":"vertical"},
  "encoding":{"x":{"field":"d","type":"quantitative","scale":{"domain":[-3.3995,14.1416],"nice":false,"zero":false},"axis":null},"y":{"field":"v","type":"quantitative","scale":{"domain":[-38.54,360.94],"nice":false,"zero":false},"axis":null},"y2":{"datum":0},
   "color":{"field":"s","type":"nominal","scale":{"range":["#5BC1FF"]},"legend":{"orient":"none","legendX":1293,"legendY":613,"title":null,"symbolType":"square","symbolSize":576,"symbolStrokeWidth":0,"symbolOpacity":1,"labelFontSize":28,"labelColor":"#595959","labelOffset":7,"padding":0}}}}
]
}
